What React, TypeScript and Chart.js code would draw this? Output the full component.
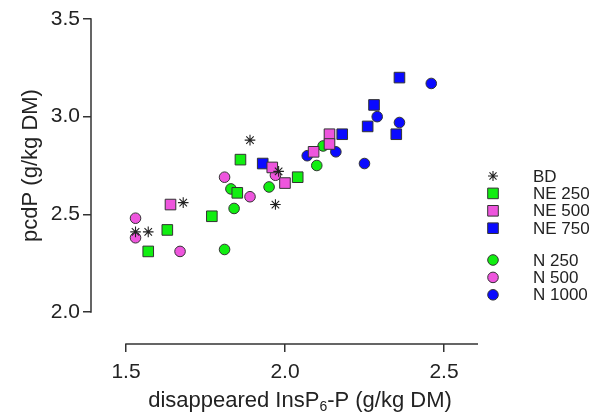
import React, { useEffect, useRef } from 'react';
import { Chart, registerables } from 'chart.js';

Chart.register(...registerables);

// ---- data ----
const SERIES_LABELS = ['BD', 'NE 250', 'NE 500', 'NE 750', 'N 250', 'N 500', 'N 1000'];

const BD_X = [1.53, 1.57, 1.68, 1.89, 1.98, 1.97];
const BD_Y = [2.41, 2.41, 2.56, 2.88, 2.72, 2.55];

const NE250_X = [1.57, 1.63, 1.77, 1.85, 1.86, 2.04];
const NE250_Y = [2.31, 2.42, 2.49, 2.61, 2.78, 2.69];

const NE500_X = [1.64, 1.96, 2.0, 2.09, 2.14, 2.14];
const NE500_Y = [2.55, 2.74, 2.66, 2.82, 2.91, 2.86];

const NE750_X = [1.93, 2.18, 2.26, 2.28, 2.36, 2.35];
const NE750_Y = [2.76, 2.91, 2.95, 3.06, 3.2, 2.91];

const N250_X = [1.81, 1.84, 1.83, 1.95, 2.12, 2.1];
const N250_Y = [2.32, 2.53, 2.63, 2.64, 2.85, 2.75];

const N500_X = [1.53, 1.53, 1.67, 1.89, 1.81, 1.97];
const N500_Y = [2.48, 2.38, 2.31, 2.59, 2.69, 2.7];

const N1000_X = [2.07, 2.16, 2.25, 2.29, 2.36, 2.46];
const N1000_Y = [2.8, 2.82, 2.76, 3.0, 2.97, 3.17];

const X_TICKS = [1.5, 2.0, 2.5];
const Y_TICKS = [2.0, 2.5, 3.0, 3.5];
const X_MIN = 1.39;
const X_MAX = 2.607;
const Y_MIN = 1.836;
const Y_MAX = 3.5;

const Y_TITLE = 'pcdP (g/kg DM)';
const X_TITLE_PARTS = ['disappeared InsP', '6', '-P (g/kg DM)'];

const GREEN = '#11ee11';
const PINK = '#ee55dd';
const BLUE = '#0a0aff';
const EDGE = '#333333';
const FONT = '"Liberation Sans", Arial, sans-serif';

const zip = (xs: number[], ys: number[]) => xs.map((x, i) => ({ x, y: ys[i] }));

type Marker = 'star' | 'rect' | 'circle';
const STYLES: { marker: Marker; color: string }[] = [
  { marker: 'star', color: '#222222' },
  { marker: 'rect', color: GREEN },
  { marker: 'rect', color: PINK },
  { marker: 'rect', color: BLUE },
  { marker: 'circle', color: GREEN },
  { marker: 'circle', color: PINK },
  { marker: 'circle', color: BLUE },
];
const SERIES_DATA = [
  zip(BD_X, BD_Y),
  zip(NE250_X, NE250_Y),
  zip(NE500_X, NE500_Y),
  zip(NE750_X, NE750_Y),
  zip(N250_X, N250_Y),
  zip(N500_X, N500_Y),
  zip(N1000_X, N1000_Y),
];

function drawMarker(ctx: CanvasRenderingContext2D, m: Marker, color: string, x: number, y: number) {
  ctx.save();
  ctx.lineWidth = 1;
  ctx.strokeStyle = EDGE;
  if (m === 'rect') {
    const s = 5.3;
    ctx.fillStyle = color;
    ctx.beginPath();
    ctx.rect(x - s, y - s, 2 * s, 2 * s);
    ctx.fill();
    ctx.stroke();
  } else if (m === 'circle') {
    ctx.fillStyle = color;
    ctx.beginPath();
    ctx.arc(x, y, 5.3, 0, Math.PI * 2);
    ctx.fill();
    ctx.stroke();
  } else {
    const r = 5;
    const d = r * Math.SQRT1_2;
    ctx.strokeStyle = color;
    ctx.lineWidth = 1.1;
    ctx.beginPath();
    ctx.moveTo(x, y - r); ctx.lineTo(x, y + r);
    ctx.moveTo(x - r, y); ctx.lineTo(x + r, y);
    ctx.moveTo(x - d, y - d); ctx.lineTo(x + d, y + d);
    ctx.moveTo(x - d, y + d); ctx.lineTo(x + d, y - d);
    ctx.stroke();
  }
  ctx.restore();
}

const decorPlugin = {
  id: 'decor',
  afterDraw(chart: any) {
    const ctx: CanvasRenderingContext2D = chart.ctx;
    const xs = chart.scales.x;
    const ys = chart.scales.y;
    const area = chart.chartArea;
    ctx.save();
    // axis lines
    ctx.strokeStyle = '#333';
    ctx.lineWidth = 1.5;
    ctx.beginPath();
    ctx.moveTo(area.left, ys.getPixelForValue(Y_TICKS[0]) + 0.75);
    ctx.lineTo(area.left, ys.getPixelForValue(Y_TICKS[Y_TICKS.length - 1]) - 0.75);
    ctx.moveTo(xs.getPixelForValue(X_TICKS[0]) - 0.75, area.bottom);
    ctx.lineTo(area.right, area.bottom);
    ctx.stroke();

    // y title
    ctx.fillStyle = '#222';
    ctx.font = `22px ${FONT}`;
    ctx.save();
    ctx.translate(31, (ys.getPixelForValue(Y_TICKS[0]) + ys.getPixelForValue(Y_TICKS[Y_TICKS.length - 1])) / 2);
    ctx.rotate(-Math.PI / 2);
    ctx.textAlign = 'center';
    ctx.textBaseline = 'middle';
    ctx.fillText(Y_TITLE, 0, 0);
    ctx.restore();

    // x title with subscript
    const mainFont = `22px ${FONT}`;
    const subFont = `14px ${FONT}`;
    ctx.textBaseline = 'alphabetic';
    ctx.textAlign = 'left';
    ctx.font = mainFont;
    const w0 = ctx.measureText(X_TITLE_PARTS[0]).width;
    const w2 = ctx.measureText(X_TITLE_PARTS[2]).width;
    ctx.font = subFont;
    const w1 = ctx.measureText(X_TITLE_PARTS[1]).width;
    const total = w0 + w1 + w2;
    let tx = 300 - total / 2;
    const by = 407;
    ctx.font = mainFont;
    ctx.fillText(X_TITLE_PARTS[0], tx, by);
    tx += w0;
    ctx.font = subFont;
    ctx.fillText(X_TITLE_PARTS[1], tx, by + 4);
    tx += w1;
    ctx.font = mainFont;
    ctx.fillText(X_TITLE_PARTS[2], tx, by);

    // legend
    ctx.font = `17px ${FONT}`;
    ctx.textBaseline = 'middle';
    ctx.fillStyle = '#222';
    SERIES_LABELS.forEach((label, i) => {
      const ly = i < 4 ? 176 + i * 17.4 : 260 + (i - 4) * 17.4;
      drawMarker(ctx, STYLES[i].marker, STYLES[i].color, 493, ly);
      ctx.fillStyle = '#222';
      ctx.fillText(label, 533, ly + 1);
    });
    ctx.restore();
  },
};

export default function App() {
  const ref = useRef<HTMLCanvasElement>(null);
  useEffect(() => {
    if (!ref.current) return;
    const datasets = SERIES_LABELS.map((label, i) => {
      const st = STYLES[i];
      const isStar = st.marker === 'star';
      return {
        label,
        data: SERIES_DATA[i],
        pointStyle: st.marker,
        pointRadius: st.marker === 'rect' ? 7.5 : 5.3,
        backgroundColor: isStar ? 'rgba(0,0,0,0)' : st.color,
        borderColor: isStar ? '#222' : EDGE,
        borderWidth: isStar ? 1.1 : 1,
        showLine: false,
      };
    });
    const chart = new Chart(ref.current, {
      type: 'scatter',
      data: { datasets },
      options: {
        animation: false,
        responsive: false,
        devicePixelRatio: 1,
        layout: { padding: { left: 0, right: 114, top: 19, bottom: 0 } },
        plugins: { legend: { display: false }, tooltip: { enabled: false } },
        scales: {
          x: {
            type: 'linear',
            min: X_MIN,
            max: X_MAX,
            border: { display: false },
            grid: { drawOnChartArea: false, drawTicks: true, tickLength: 8, color: '#333', lineWidth: 1.5 },
            ticks: { font: { family: FONT, size: 21 }, color: '#222', padding: 8, callback: (v: any) => Number(v).toFixed(1) },
            afterBuildTicks: (s: any) => { s.ticks = X_TICKS.map((v) => ({ value: v })); },
            afterFit: (s: any) => { s.height = 72; },
          },
          y: {
            type: 'linear',
            min: Y_MIN,
            max: Y_MAX,
            border: { display: false },
            grid: { drawOnChartArea: false, drawTicks: true, tickLength: 8, color: '#333', lineWidth: 1.5 },
            ticks: { font: { family: FONT, size: 21 }, color: '#222', padding: 3, callback: (v: any) => Number(v).toFixed(1) },
            afterBuildTicks: (s: any) => { s.ticks = Y_TICKS.map((v) => ({ value: v })); },
            afterFit: (s: any) => { s.width = 91; },
          },
        },
      },
      plugins: [decorPlugin],
    });
    return () => chart.destroy();
  }, []);
  return (
    <div style={{ position: 'fixed', left: 0, top: 0, width: 592, height: 416, background: '#fff' }}>
      <canvas ref={ref} width={592} height={416} style={{ display: 'block', width: 592, height: 416 }} />
    </div>
  );
}
